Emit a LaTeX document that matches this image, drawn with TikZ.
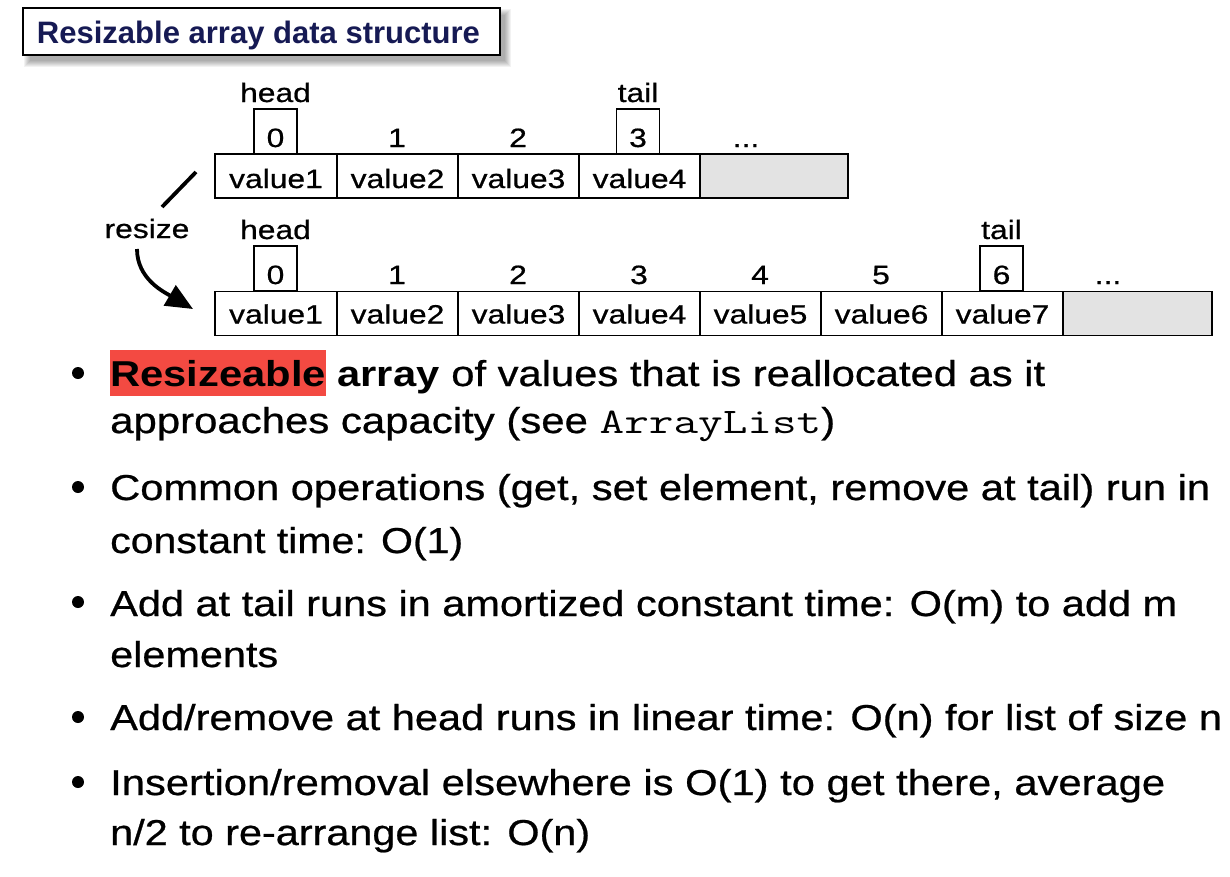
\documentclass[tikz,border=0pt]{standalone}
\usepackage{fontspec}
\setmainfont{Liberation Sans}
\newfontfamily\heavyfont{Liberation Sans}[FakeBold=0.6]
\usetikzlibrary{arrows.meta}
\definecolor{titleblue}{RGB}{22,26,84}
\definecolor{hlred}{RGB}{243,74,66}
\definecolor{cellgray}{RGB}{227,227,227}
\newcommand{\dtext}[1]{\scalebox{1.2}[1]{\heavyfont\fontsize{26.5}{31}\selectfont #1}}
\newcommand{\bline}[2]{\resizebox{#1}{\height}{\fontsize{36}{43}\selectfont #2}}
\begin{document}
\begin{tikzpicture}[x=1pt,y=-1pt,
  cellbox/.style={draw,line width=1.6pt,minimum height=44pt,inner sep=0pt},
  idxbox/.style={draw,line width=1.6pt,minimum width=43pt,minimum height=45pt,inner sep=0pt},
  lbl/.style={anchor=base,inner sep=0pt},
  bl/.style={anchor=base west,inner sep=0pt},
  dot/.style={circle,fill=black,inner sep=0pt,minimum size=12pt},
  thick line/.style={line width=3.8pt}
]
\useasboundingbox (0,0) rectangle (1230,876);
\fill[white] (0,0) rectangle (1230,876);

% ---- title with shadow
\foreach \k in {0,...,6} { \fill[black,opacity=0.05] (30-\k,15-\k) rectangle (505+\k,61+\k); }
\node[draw,fill=white,line width=1.5pt,minimum width=477pt,minimum height=47pt,inner sep=0pt] (titlebox) at (261.5,31.5) {};
\node[lbl] (title) at (258.5,43) {\resizebox{443pt}{\height}{\fontsize{31}{37}\selectfont\bfseries\color{titleblue}Resizable array data structure}};

% ---- top array
\node[cellbox,minimum width=122pt] (t1) at (276,176) {};
\node[cellbox,minimum width=121pt] (t2) at (397.5,176) {};
\node[cellbox,minimum width=121pt] (t3) at (518.5,176) {};
\node[cellbox,minimum width=121pt] (t4) at (639.5,176) {};
\node[cellbox,minimum width=148pt,fill=cellgray] (t5) at (774,176) {};
\node[lbl] (tv1) at (276,188) {\dtext{value1}};
\node[lbl] (tv2) at (397.5,188) {\dtext{value2}};
\node[lbl] (tv3) at (518.5,188) {\dtext{value3}};
\node[lbl] (tv4) at (639.5,188) {\dtext{value4}};
\node[idxbox] (thead) at (275.5,131.5) {};
\node[idxbox] (ttail) at (638,131.5) {};
\node[lbl] (ti0) at (275.5,147) {\dtext{0}};
\node[lbl] (ti1) at (397,147) {\dtext{1}};
\node[lbl] (ti2) at (518,147) {\dtext{2}};
\node[lbl] (ti3) at (638,147) {\dtext{3}};
\node[lbl] (tdots) at (746,147) {\dtext{...}};
\node[lbl] (theadl) at (275.5,102) {\dtext{head}};
\node[lbl] (ttaill) at (638,102) {\dtext{tail}};

% ---- bottom array
\node[cellbox,minimum width=122pt] (b1) at (276,313.5) {};
\node[cellbox,minimum width=121pt] (b2) at (397.5,313.5) {};
\node[cellbox,minimum width=121pt] (b3) at (518.5,313.5) {};
\node[cellbox,minimum width=121pt] (b4) at (639.5,313.5) {};
\node[cellbox,minimum width=121pt] (b5) at (760.5,313.5) {};
\node[cellbox,minimum width=121pt] (b6) at (881.5,313.5) {};
\node[cellbox,minimum width=121pt] (b7) at (1002.5,313.5) {};
\node[cellbox,minimum width=149pt,fill=cellgray] (b8) at (1137.5,313.5) {};
\node[lbl] (bv1) at (276,323.5) {\dtext{value1}};
\node[lbl] (bv2) at (397.5,323.5) {\dtext{value2}};
\node[lbl] (bv3) at (518.5,323.5) {\dtext{value3}};
\node[lbl] (bv4) at (639.5,323.5) {\dtext{value4}};
\node[lbl] (bv5) at (760.5,323.5) {\dtext{value5}};
\node[lbl] (bv6) at (881.5,323.5) {\dtext{value6}};
\node[lbl] (bv7) at (1002.5,323.5) {\dtext{value7}};
\node[idxbox] (bhead) at (275.5,268.5) {};
\node[idxbox] (btail) at (1001.5,268.5) {};
\node[lbl] (bi0) at (275.5,284) {\dtext{0}};
\node[lbl] (bi1) at (397,284) {\dtext{1}};
\node[lbl] (bi2) at (518,284) {\dtext{2}};
\node[lbl] (bi3) at (639,284) {\dtext{3}};
\node[lbl] (bi4) at (760,284) {\dtext{4}};
\node[lbl] (bi5) at (881,284) {\dtext{5}};
\node[lbl] (bi6) at (1001.5,284) {\dtext{6}};
\node[lbl] (bdots) at (1108,284) {\dtext{...}};
\node[lbl] (bheadl) at (275.5,239) {\dtext{head}};
\node[lbl] (btaill) at (1001.5,239) {\dtext{tail}};

% ---- resize
\node[lbl] (rz) at (147,238) {\dtext{resize}};
\coordinate (s1) at (196,172);
\coordinate (s2) at (162,207);
\draw[thick line] (s1) -- (s2);
\coordinate (a1) at (137,249);
\coordinate (a2) at (193,309);
\draw[thick line,-{Triangle[length=27pt,width=23pt]}] (a1) .. controls (137,279) and (164,292) .. (a2);

% ---- bullets
\fill[hlred] (110,350) rectangle (326,396);
\node[dot] (d1) at (78,373) {};
\node[bl] (l1) at (110,386) {\bline{935pt}{\textbf{Resizeable array} {\heavyfont of values that is reallocated as it}}};
\node[bl] (l2) at (110,433) {\bline{725pt}{\heavyfont approaches capacity (see {\ttfamily\scalebox{1.14}[1]{ArrayList}})}};
\node[dot] (d2) at (78,487) {};
\node[bl] (l3) at (110,500) {\bline{1100pt}{\heavyfont Common operations (get, set element, remove at tail) run in}};
\node[bl] (l4) at (110,553) {\bline{353pt}{\heavyfont constant time: O(1)}};
\node[dot] (d3) at (78,602) {};
\node[bl] (l5) at (110,616) {\bline{1067pt}{\heavyfont Add at tail runs in amortized constant time: O(m) to add m}};
\node[bl] (l6) at (110,667) {\bline{168pt}{\heavyfont elements}};
\node[dot] (d4) at (78,717) {};
\node[bl] (l7) at (110,730) {\bline{1112pt}{\heavyfont Add/remove at head runs in linear time: O(n) for list of size n}};
\node[dot] (d5) at (78,782) {};
\node[bl] (l8) at (110,795) {\bline{1055pt}{\heavyfont Insertion/removal elsewhere is O(1) to get there, average}};
\node[bl] (l9) at (110,845) {\bline{480pt}{\heavyfont n/2 to re-arrange list: O(n)}};
\end{tikzpicture}
\end{document}
